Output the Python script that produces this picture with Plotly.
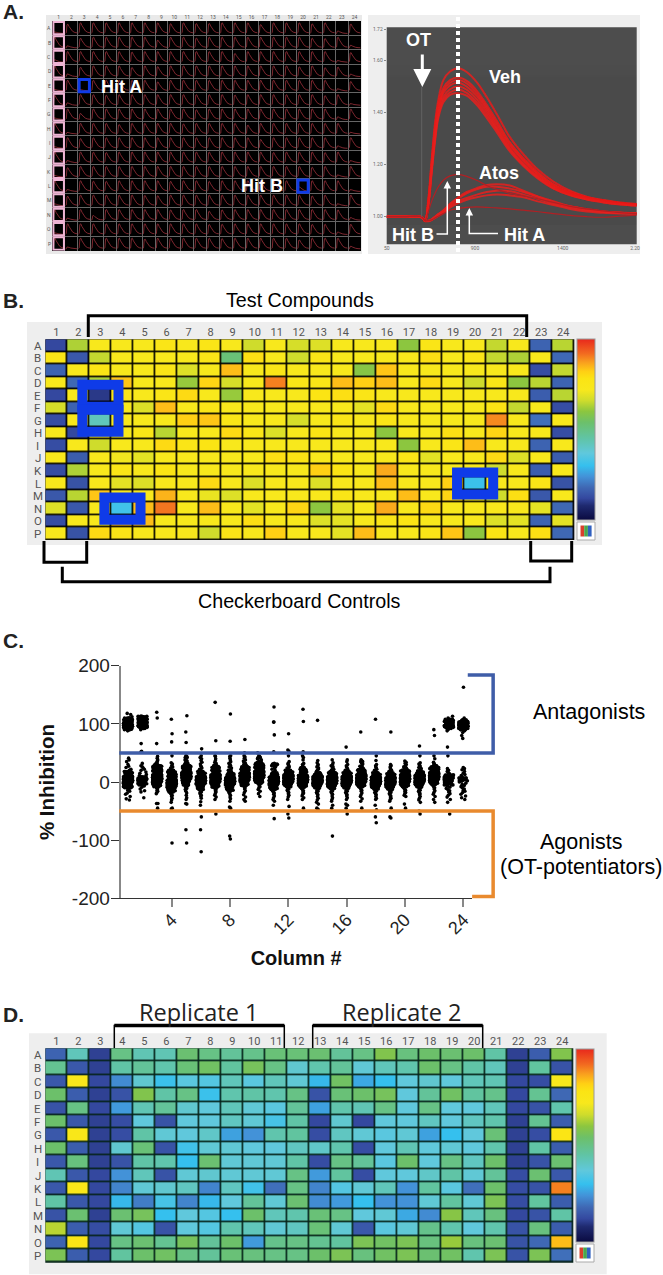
import plotly.graph_objects as go

W, H = 663, 1275

ROWS = list("ABCDEFGHIJKLMNOP")
COLUMNS = list(range(1, 25))

# panel A, kinetic traces (ratio vs read number)
READS = [50, 100, 155, 165, 175, 185, 195, 205, 220, 240, 265, 290, 320, 350, 380, 420, 460, 500, 550, 600, 650, 700, 750, 800]
VEH_TRACES = [
    [1.00, 1.00, 0.998, 0.987, 1.07, 1.22, 1.36, 1.45, 1.525, 1.558, 1.571, 1.556, 1.517, 1.46, 1.395, 1.305, 1.24, 1.185, 1.135, 1.10, 1.077, 1.064, 1.055, 1.049],
    [1.00, 1.00, 0.998, 0.985, 1.06, 1.21, 1.34, 1.43, 1.495, 1.525, 1.535, 1.522, 1.485, 1.43, 1.37, 1.285, 1.225, 1.175, 1.125, 1.095, 1.075, 1.062, 1.053, 1.048],
    [1.00, 1.00, 0.997, 0.984, 1.06, 1.20, 1.33, 1.42, 1.485, 1.515, 1.525, 1.512, 1.475, 1.42, 1.36, 1.28, 1.22, 1.17, 1.122, 1.092, 1.073, 1.061, 1.052, 1.047],
    [1.00, 1.00, 0.998, 0.986, 1.05, 1.19, 1.32, 1.41, 1.475, 1.505, 1.515, 1.50, 1.465, 1.41, 1.35, 1.272, 1.215, 1.165, 1.118, 1.09, 1.071, 1.06, 1.051, 1.046],
    [1.00, 1.00, 0.999, 0.985, 1.05, 1.18, 1.31, 1.40, 1.46, 1.49, 1.50, 1.488, 1.452, 1.40, 1.34, 1.262, 1.205, 1.158, 1.114, 1.086, 1.069, 1.058, 1.05, 1.045],
    [1.00, 1.00, 0.997, 0.984, 1.05, 1.18, 1.30, 1.39, 1.45, 1.478, 1.488, 1.476, 1.44, 1.39, 1.335, 1.258, 1.20, 1.155, 1.11, 1.084, 1.067, 1.056, 1.048, 1.043],
    [1.00, 1.00, 0.998, 0.985, 1.04, 1.17, 1.29, 1.38, 1.44, 1.468, 1.475, 1.465, 1.43, 1.38, 1.325, 1.25, 1.195, 1.15, 1.108, 1.082, 1.066, 1.055, 1.047, 1.042],
]
ATOS_TRACES = [
    [1.00, 1.00, 1.00, 0.985, 0.985, 0.99, 1.00, 1.01, 1.025, 1.05, 1.075, 1.095, 1.11, 1.122, 1.125, 1.12, 1.10, 1.08, 1.06, 1.04, 1.03, 1.02, 1.015, 1.012],
    [1.00, 1.00, 0.998, 0.983, 0.985, 0.99, 1.00, 1.01, 1.022, 1.045, 1.07, 1.09, 1.105, 1.115, 1.115, 1.108, 1.095, 1.078, 1.055, 1.04, 1.028, 1.02, 1.016, 1.014],
    [1.00, 1.00, 0.999, 0.984, 0.984, 0.988, 0.996, 1.005, 1.018, 1.04, 1.06, 1.072, 1.085, 1.095, 1.10, 1.098, 1.085, 1.07, 1.05, 1.035, 1.025, 1.018, 1.015, 1.012],
    [1.00, 1.00, 0.998, 0.983, 0.983, 0.987, 0.995, 1.003, 1.015, 1.035, 1.052, 1.065, 1.075, 1.082, 1.085, 1.082, 1.075, 1.06, 1.045, 1.03, 1.02, 1.015, 1.012, 1.01],
]
HIT_B_TRACE = [1.00, 1.00, 1.00, 0.985, 1.02, 1.06, 1.09, 1.115, 1.14, 1.157, 1.163, 1.155, 1.14, 1.12, 1.105, 1.09, 1.08, 1.07, 1.055, 1.04, 1.03, 1.022, 1.016, 1.012]
HIT_A_TRACE = [1.00, 1.00, 1.00, 0.985, 0.985, 0.988, 0.995, 1.002, 1.012, 1.025, 1.032, 1.036, 1.038, 1.036, 1.034, 1.03, 1.025, 1.02, 1.012, 1.005, 1.00, 0.998, 1.002, 1.006]
RATIO_TICKS = [0.89, 1.0, 1.2, 1.4, 1.6, 1.72]
READ_TICKS = [50, 315, 578, 795]
READ_LABELS = ["50", "900", "1400", "2.20"]

# shape of the small well trace in the plate view of panel A
WELL_TIME = [0, 0.06, 0.12, 0.2, 0.3, 0.45, 0.6, 0.8, 1]
WELL_SHAPE = [0.05, 0.1, 0.95, 1, 0.75, 0.45, 0.25, 0.12, 0.08]

PLATE_B = [
    [12, 63, 72, 72, 72, 76, 72, 76, 72, 66, 72, 67, 68, 72, 72, 72, 60, 76, 72, 72, 65, 72, 17, 64],
    [76, 15, 65, 72, 72, 72, 72, 76, 52, 79, 72, 66, 76, 72, 72, 72, 72, 79, 72, 76, 65, 63, 72, 18],
    [17, 72, 77, 72, 72, 76, 68, 72, 84, 72, 76, 72, 72, 72, 59, 83, 72, 72, 72, 72, 72, 72, 13, 65],
    [72, 18, 63, 83, 72, 72, 61, 81, 67, 72, 90, 76, 76, 84, 82, 84, 72, 80, 72, 66, 76, 60, 64, 17],
    [12, 72, 10, 76, 72, 76, 80, 72, 61, 72, 72, 72, 78, 79, 76, 72, 72, 72, 72, 72, 72, 72, 16, 64],
    [67, 17, 72, 72, 68, 84, 72, 76, 72, 72, 72, 72, 72, 72, 69, 80, 72, 72, 72, 72, 78, 65, 72, 13],
    [13, 72, 42, 72, 72, 72, 82, 83, 76, 72, 72, 67, 72, 76, 72, 76, 72, 72, 72, 72, 89, 72, 19, 72],
    [72, 12, 72, 72, 76, 64, 72, 72, 80, 76, 68, 72, 78, 72, 72, 60, 72, 72, 79, 72, 81, 72, 72, 13],
    [13, 72, 66, 72, 72, 80, 76, 78, 72, 72, 72, 72, 72, 72, 72, 72, 60, 72, 76, 84, 72, 72, 17, 72],
    [72, 16, 72, 71, 69, 72, 72, 72, 72, 72, 79, 78, 72, 72, 72, 72, 76, 69, 72, 72, 80, 68, 72, 16],
    [13, 63, 72, 76, 72, 78, 72, 72, 72, 72, 72, 72, 82, 78, 72, 86, 72, 72, 72, 72, 66, 72, 16, 72],
    [72, 14, 72, 69, 68, 72, 72, 80, 72, 68, 72, 72, 68, 72, 72, 84, 72, 72, 82, 31, 72, 72, 76, 14],
    [15, 64, 83, 72, 72, 85, 72, 70, 68, 72, 72, 72, 72, 76, 72, 72, 84, 72, 81, 72, 66, 79, 15, 72],
    [68, 15, 72, 32, 84, 91, 72, 84, 72, 69, 72, 81, 60, 69, 72, 86, 72, 80, 72, 72, 72, 72, 69, 18],
    [13, 72, 72, 84, 84, 72, 72, 72, 72, 79, 72, 72, 68, 69, 72, 76, 78, 72, 72, 72, 68, 69, 17, 69],
    [72, 14, 80, 76, 72, 72, 72, 66, 76, 72, 82, 72, 72, 69, 84, 72, 72, 76, 83, 60, 78, 72, 79, 18],
]
PLATE_D = [
    [17, 42, 11, 50, 43, 43, 53, 50, 47, 49, 52, 52, 53, 47, 50, 58, 51, 54, 53, 54, 45, 11, 16, 58],
    [48, 15, 11, 45, 47, 44, 52, 55, 46, 56, 50, 39, 44, 47, 38, 42, 44, 54, 50, 45, 42, 11, 46, 14],
    [15, 73, 12, 23, 39, 31, 36, 35, 42, 36, 42, 38, 29, 55, 27, 30, 37, 39, 37, 42, 43, 12, 13, 72],
    [54, 16, 11, 14, 58, 45, 50, 31, 44, 45, 44, 50, 14, 52, 54, 56, 37, 47, 55, 46, 49, 12, 48, 18],
    [14, 50, 12, 25, 43, 47, 39, 37, 42, 38, 36, 47, 26, 44, 43, 50, 37, 50, 37, 37, 42, 12, 14, 44],
    [54, 15, 11, 13, 37, 14, 37, 37, 41, 38, 33, 45, 12, 39, 12, 37, 37, 41, 37, 41, 44, 11, 48, 16],
    [15, 74, 11, 13, 45, 38, 37, 40, 26, 24, 44, 46, 13, 41, 38, 36, 38, 26, 30, 37, 52, 11, 13, 77],
    [54, 16, 11, 39, 52, 14, 32, 38, 38, 37, 37, 41, 40, 44, 13, 37, 43, 37, 38, 37, 44, 11, 45, 16],
    [15, 51, 11, 14, 45, 44, 30, 53, 38, 38, 38, 45, 13, 50, 47, 36, 54, 37, 50, 41, 54, 11, 14, 53],
    [43, 15, 12, 24, 42, 14, 38, 39, 38, 38, 38, 50, 25, 46, 13, 37, 37, 40, 45, 38, 47, 13, 53, 15],
    [15, 74, 12, 22, 38, 39, 41, 22, 41, 32, 19, 50, 22, 35, 38, 42, 24, 46, 36, 19, 54, 13, 14, 90],
    [45, 15, 12, 29, 21, 33, 22, 29, 37, 47, 38, 53, 23, 25, 30, 24, 24, 38, 46, 38, 57, 13, 46, 16],
    [14, 53, 11, 53, 56, 30, 37, 35, 30, 54, 42, 44, 52, 50, 37, 38, 27, 23, 59, 42, 51, 12, 14, 45],
    [64, 16, 13, 38, 35, 14, 37, 35, 44, 42, 38, 41, 52, 38, 15, 36, 38, 49, 44, 37, 44, 14, 51, 16],
    [17, 76, 12, 50, 53, 48, 56, 47, 54, 25, 49, 50, 48, 46, 57, 55, 57, 51, 61, 51, 53, 14, 18, 84],
    [57, 16, 12, 46, 54, 55, 50, 47, 52, 51, 50, 50, 54, 57, 51, 55, 57, 53, 55, 44, 57, 14, 57, 19],
]
HITS_B = [("E", 3), ("G", 3), ("N", 4), ("L", 20)]
HITS_A = [("E", 3), ("L", 20)]

# panel C, % inhibition read per column
INHIBITION = [
    [118, 116, 112, 110, 108, 107, 106, 105, 104, 103, 103, 102, 101, 100, 100, 99, 99, 98, 97, 97, 96, 95, 94, 93, 92, 91, 90, 88, 41, 38, 35, 30, 27, 25, 22, 20, 18, 16, 15, 14, 12, 11, 10, 9, 8, 7, 6, 5, 4, 3, 2, 1, 0, 0, -1, -2, -3, -4, -5, -6, -7, -8, -10, -12, -14, -16, -19, -21, -25, -29, -31],
    [113, 112, 111, 110, 109, 108, 108, 107, 106, 105, 105, 104, 103, 103, 102, 102, 101, 100, 100, 99, 98, 97, 96, 95, 94, 92, 90, 66, 53, 52, 32, 28, 26, 24, 22, 20, 17, 15, 13, 11, 9, 7, 6, 5, 4, 3, 2, 1, 0, -1, -2, -3, -5, -7, -9, -12, -15, -17, -27],
    [120, 110, 66, 44, 41, 38, 36, 34, 32, 30, 28, 27, 26, 25, 24, 23, 22, 21, 20, 19, 18, 17, 16, 15, 14, 13, 12, 11, 10, 9, 8, 7, 6, 5, 4, 3, 2, 1, 0, -1, -2, -3, -4, -5, -6, -8, -10, -12, -14, -16, -18, -20, -37, -37, -45],
    [108, 83, 69, 45, 33, 31, 28, 26, 24, 22, 20, 18, 17, 16, 14, 13, 12, 10, 9, 8, 7, 6, 5, 4, 3, 2, 1, 0, 0, -1, -2, -3, -4, -5, -6, -7, -8, -9, -10, -11, -12, -14, -15, -17, -19, -21, -23, -25, -28, -31, -35, -45, -46, -105],
    [114, 86, 68, 45, 44, 42, 40, 38, 36, 34, 32, 30, 28, 27, 26, 25, 24, 22, 21, 20, 19, 18, 17, 16, 15, 14, 13, 12, 11, 10, 9, 8, 7, 6, 5, 3, 2, 1, 0, -2, -3, -5, -7, -9, -11, -13, -16, -19, -23, -27, -30, -37, -38, -82, -105],
    [57, 45, 42, 40, 37, 34, 31, 28, 26, 24, 22, 20, 18, 16, 15, 14, 12, 11, 10, 9, 8, 7, 6, 5, 4, 3, 2, 1, 0, -1, -2, -3, -4, -5, -7, -8, -10, -11, -13, -15, -17, -19, -21, -23, -25, -28, -34, -40, -60, -82, -120],
    [137, 71, 45, 44, 40, 37, 34, 32, 30, 28, 26, 25, 24, 22, 20, 19, 18, 16, 15, 14, 13, 12, 11, 10, 9, 8, 7, 6, 5, 4, 3, 2, 1, 0, -1, -2, -3, -4, -6, -7, -9, -11, -13, -15, -17, -20, -23, -26, -30, -55],
    [117, 70, 45, 44, 41, 38, 35, 32, 30, 28, 26, 24, 22, 20, 18, 16, 14, 13, 12, 11, 10, 8, 7, 6, 5, 4, 3, 2, 1, 0, -1, -2, -3, -4, -5, -6, -8, -9, -11, -12, -14, -16, -18, -20, -23, -26, -29, -33, -43, -45, -93, -98],
    [73, 50, 45, 43, 41, 38, 36, 34, 32, 30, 28, 26, 25, 24, 22, 21, 20, 19, 18, 17, 16, 15, 14, 13, 12, 11, 10, 9, 8, 7, 6, 5, 4, 3, 2, 1, 0, -1, -3, -4, -6, -8, -10, -12, -15, -18, -22, -26, -30, -33],
    [50, 45, 44, 42, 40, 38, 36, 34, 32, 31, 30, 29, 28, 27, 26, 25, 24, 23, 22, 21, 20, 19, 18, 17, 16, 15, 14, 13, 12, 11, 10, 9, 8, 7, 6, 5, 4, 3, 2, 1, 0, -2, -4, -6, -8, -10, -13, -16, -20, -25],
    [129, 103, 103, 81, 52, 32, 31, 30, 28, 26, 24, 22, 20, 18, 16, 14, 13, 12, 10, 9, 8, 7, 6, 5, 4, 3, 2, 1, 0, -1, -2, -3, -4, -5, -6, -7, -9, -10, -11, -13, -15, -17, -19, -21, -24, -27, -30, -33, -40, -63],
    [83, 55, 53, 45, 35, 32, 30, 28, 26, 24, 22, 20, 18, 17, 16, 15, 14, 13, 12, 11, 10, 9, 8, 7, 6, 5, 4, 3, 2, 1, 0, -1, -2, -3, -4, -5, -6, -8, -10, -12, -14, -16, -18, -20, -23, -26, -30, -42, -55, -62],
    [125, 104, 52, 45, 42, 38, 32, 30, 28, 25, 24, 22, 20, 18, 17, 16, 14, 12, 11, 10, 9, 8, 7, 6, 5, 4, 3, 2, 1, 0, -1, -2, -3, -4, -5, -6, -7, -9, -11, -13, -15, -17, -19, -21, -24, -27, -30, -45],
    [106, 37, 33, 30, 28, 26, 24, 22, 20, 18, 16, 14, 13, 12, 11, 10, 9, 8, 7, 6, 5, 4, 3, 2, 1, 0, -1, -2, -3, -4, -5, -6, -7, -8, -10, -12, -14, -16, -18, -20, -22, -25, -28, -31, -35, -38, -45, -47],
    [38, 33, 30, 28, 26, 24, 22, 20, 18, 16, 15, 14, 13, 12, 11, 10, 9, 8, 7, 6, 5, 4, 3, 2, 1, 0, -1, -2, -3, -4, -5, -6, -7, -8, -9, -11, -13, -15, -17, -19, -21, -24, -27, -30, -33, -40, -45, -93],
    [60, 38, 35, 30, 28, 26, 24, 22, 20, 18, 16, 15, 14, 13, 12, 11, 10, 9, 8, 7, 6, 5, 4, 3, 2, 1, 0, -1, -2, -3, -4, -5, -6, -7, -8, -10, -12, -14, -16, -18, -20, -22, -24, -27, -30, -38, -40, -45, -55],
    [86, 38, 37, 35, 33, 31, 29, 27, 25, 23, 21, 20, 18, 17, 16, 15, 14, 13, 12, 11, 10, 9, 8, 7, 6, 5, 4, 3, 2, 1, 0, -1, -2, -3, -4, -5, -6, -8, -10, -12, -14, -16, -19, -22, -25, -29, -33, -45],
    [108, 45, 37, 30, 28, 26, 24, 22, 20, 18, 16, 14, 13, 12, 11, 10, 9, 8, 7, 6, 5, 4, 3, 2, 1, 0, -1, -2, -3, -4, -5, -6, -7, -8, -9, -10, -12, -14, -16, -18, -20, -22, -25, -28, -30, -40, -48, -60, -70],
    [86, 30, 28, 26, 24, 22, 20, 18, 16, 14, 13, 12, 11, 10, 9, 8, 7, 6, 5, 4, 3, 2, 1, 0, -1, -2, -3, -4, -5, -6, -7, -8, -9, -10, -12, -14, -16, -18, -20, -22, -24, -26, -28, -30, -33, -45, -60, -62],
    [36, 34, 32, 30, 28, 26, 24, 22, 20, 19, 18, 17, 16, 15, 14, 13, 12, 11, 10, 9, 8, 7, 6, 5, 4, 3, 2, 1, 0, -1, -2, -3, -4, -5, -6, -8, -10, -12, -14, -16, -18, -20, -23, -25, -38, -45],
    [62, 45, 33, 31, 29, 27, 25, 23, 21, 19, 17, 16, 15, 14, 13, 12, 11, 10, 9, 8, 7, 6, 5, 4, 3, 2, 1, 0, -1, -2, -3, -4, -5, -6, -8, -10, -12, -14, -16, -18, -20, -22, -25, -28, -31, -35, -50, -55],
    [90, 80, 45, 40, 34, 32, 30, 28, 26, 25, 24, 23, 22, 21, 20, 19, 18, 17, 16, 15, 14, 13, 12, 11, 10, 9, 8, 7, 6, 5, 4, 3, 2, 1, 0, -1, -2, -4, -6, -8, -10, -12, -15, -18, -21, -25, -30, -35],
    [113, 110, 108, 106, 105, 104, 103, 102, 101, 100, 99, 98, 97, 96, 95, 94, 92, 90, 88, 60, 45, 23, 20, 18, 16, 14, 12, 10, 9, 8, 7, 5, 4, 2, 1, 0, -2, -3, -5, -7, -9, -11, -13, -15, -17, -20, -23, -26, -30, -35, -55],
    [163, 110, 107, 105, 104, 103, 102, 101, 100, 99, 98, 97, 96, 95, 94, 93, 92, 90, 88, 85, 80, 75, 25, 23, 21, 18, 15, 13, 11, 9, 7, 5, 4, 2, 0, -2, -4, -6, -8, -10, -12, -14, -16, -18, -21, -24, -27, -30],
]
TICKS_C = [4, 8, 12, 16, 20, 24]
TICKS_INHIBITION = [-200, -100, 0, 100, 200]
LABELS_INHIBITION = ["-200", "-100", "0", "100", "200"]
ANTAGONIST_CUT = 50
AGONIST_CUT = -50
PLATES_READ = 5  # the plates of a screen overlap, so the dense bands are drawn once per plate

HEAT_SCALE = [
    [0.00, "#0a0a40"], [0.08, "#1f2a70"], [0.12, "#34489f"], [0.18, "#3f68b4"], [0.24, "#4392d8"],
    [0.30, "#35c0ee"], [0.37, "#60c8dc"], [0.45, "#60c4a6"], [0.54, "#6cc06a"], [0.60, "#8cc63f"],
    [0.66, "#cfdc2c"], [0.72, "#f8e81c"], [0.78, "#fbe414"], [0.82, "#ffd014"], [0.87, "#f9a01e"],
    [0.92, "#f26a20"], [1.00, "#e8281c"],
]

SANS = "Liberation Sans"
BLUE_FRAME = "#0f3be8"
C_LEFT, C_RIGHT, C_TOP, C_BOTTOM = 120.7, 471.7, 665.7, 898.3
C_RANGE_X = [0.5, 24.57]


def px(x, y):
    return x / W, 1 - y / H


def dom_x(a, b):
    return [a / W, b / W]


def dom_y(top, bottom):
    return [1 - bottom / H, 1 - top / H]


def c_px(col, value):
    # panel C data position to page pixels, for the brackets that run past the axes
    x = C_LEFT + (col - C_RANGE_X[0]) / (C_RANGE_X[1] - C_RANGE_X[0]) * (C_RIGHT - C_LEFT)
    y = C_TOP + (200 - value) / 400 * (C_BOTTOM - C_TOP)
    return x, y


def box(x0, y0, x1, y1, fill, line=None, width=0, layer="below"):
    a, b = px(x0, y0)
    c, d = px(x1, y1)
    return dict(type="rect", xref="paper", yref="paper", x0=a, y0=d, x1=c, y1=b, fillcolor=fill,
                line=dict(color=line or fill, width=width), layer=layer)


def path(points, color="black", width=3, dash="solid"):
    s = ""
    for i, (x, y) in enumerate(points):
        a, b = px(x, y)
        s += ("M" if i == 0 else "L") + f" {a:.5f} {b:.5f} "
    return dict(type="path", xref="paper", yref="paper", path=s, line=dict(color=color, width=width, dash=dash), layer="above")


def text(x, y, s, size=19, color="black", family=SANS, bold=False):
    a, b = px(x, y)
    return dict(x=a, y=b, xref="paper", yref="paper", text=f"<b>{s}</b>" if bold else s, showarrow=False,
                font=dict(size=size, color=color, family=family), xanchor="center", yanchor="middle")


def row_letters(x, top, bottom, size):
    step = (bottom - top) / 16
    return [text(x, top + (i + 0.5) * step, r, size, "#555", "Roboto") for i, r in enumerate(ROWS)]


def plate_axes(left, right, top, bottom, tick_size, anchor_y):
    xa = dict(domain=dom_x(left, right), range=[0.5, 24.5], tickvals=COLUMNS, side="top", ticks="", showgrid=False,
              zeroline=False, showline=False, tickfont=dict(size=tick_size, color="#555", family="Roboto"),
              anchor=anchor_y, tickangle=0)
    ya = dict(domain=dom_y(top, bottom), range=[16.5, 0.5], tickvals=list(range(1, 17)), ticktext=ROWS, ticks="",
              showgrid=False, zeroline=False, showline=False, showticklabels=False)
    return xa, ya


def colorbar(x, y_bottom, length):
    return dict(x=x / W, xanchor="left", y=1 - y_bottom / H, yanchor="bottom", lenmode="pixels", len=length,
                thickness=18, xpad=0, ypad=0, outlinewidth=1, outlinecolor="#999", ticks="", showticklabels=False)


def icon(x0, y0):
    parts = [box(x0, y0, x0 + 18, y0 + 18, "white", "#aaa", 1)]
    for i, c in enumerate(["#d8402c", "#4aa84c", "#3060c0"]):
        parts.append(box(x0 + 3.5 + 3.7 * i, y0 + 3.5, x0 + 7.2 + 3.7 * i, y0 + 14.5, c))
    return parts


fig = go.Figure()

# panel A plate view
well_x, well_y = [], []
for r in range(16):
    for c in range(24):
        peak = min(PLATE_B[r][c] / 72, 1)
        for t, s in zip(WELL_TIME, WELL_SHAPE):
            well_x.append(c + 1 - 0.45 + 0.9 * t)
            well_y.append(r + 1 + 0.38 - 0.75 * s * peak)
        well_x.append(None)
        well_y.append(None)
fig.add_trace(go.Scatter(x=well_x, y=well_y, mode="lines", line=dict(color="#8a2a33", width=0.9),
                         xaxis="x", yaxis="y", hoverinfo="skip"))

# panel A kinetic traces
for trace in VEH_TRACES + ATOS_TRACES:
    fig.add_trace(go.Scatter(x=READS, y=trace, mode="lines", line=dict(color="#e8201e", width=2, shape="spline"),
                             opacity=0.85, xaxis="x2", yaxis="y2"))
for trace in [HIT_B_TRACE, HIT_A_TRACE]:
    fig.add_trace(go.Scatter(x=READS, y=trace, mode="lines", line=dict(color="#b02024", width=1.2, shape="spline"),
                             xaxis="x2", yaxis="y2"))
fig.add_trace(go.Scatter(x=[155, 155], y=[1.0, 1.5], mode="lines", line=dict(color="#626262", width=1),
                         xaxis="x2", yaxis="y2"))

# panels B and D
fig.add_trace(go.Heatmap(z=PLATE_B, x=COLUMNS, y=list(range(1, 17)), zmin=0, zmax=100, colorscale=HEAT_SCALE,
                         xgap=1.6, ygap=1.6, colorbar=colorbar(577, 520, 181), xaxis="x3", yaxis="y3"))
fig.add_trace(go.Heatmap(z=PLATE_D, x=COLUMNS, y=list(range(1, 17)), zmin=0, zmax=100, colorscale=HEAT_SCALE,
                         xgap=1.6, ygap=1.6, colorbar=colorbar(576, 1241.7, 193), xaxis="x5", yaxis="y5"))

# panel C
for col, values in zip(COLUMNS, INHIBITION):
    dense = [v for v in values if sum(abs(v - u) <= 3 for u in values) >= 4]
    points = values + dense * (PLATES_READ - 1)
    fig.add_trace(go.Box(x=[col] * len(points), y=points, boxpoints="all", jitter=0.8, pointpos=0, width=0.8,
                         fillcolor="rgba(0,0,0,0)", line=dict(width=0, color="rgba(0,0,0,0)"),
                         marker=dict(color="black", size=3.6), xaxis="x4", yaxis="y4", hoverinfo="y"))

shapes = [
    box(46, 15, 362, 254, "#e9e9e9"),
    box(52, 21, 361, 251, "black"),
    box(368, 15, 640, 254, "#eeeeee"),
    box(386.7, 27.3, 636.7, 244.3, "#4d4d4d"),
    box(27, 322, 602, 545, "#eeeeee"),
    box(45.3, 339.3, 574.3, 540, "black"),
    box(29, 1033.3, 606.7, 1274.3, "#eeeeee"),
    box(45.3, 1048.3, 573.3, 1262.7, "#06231a"),
]
shapes += icon(577, 522) + icon(576, 1244)

# pink control column of the plate view
for r in range(1, 17):
    shapes.append(dict(type="rect", xref="x", yref="y", x0=0.6, x1=1.42, y0=r - 0.43, y1=r + 0.43,
                       line=dict(color="#eeb4d4", width=2), layer="above"))
for row, col in HITS_A:
    r = ROWS.index(row) + 1
    shapes.append(dict(type="rect", xref="x", yref="y", x0=col - 0.4, x1=col + 0.4, y0=r - 0.42, y1=r + 0.42,
                       line=dict(color=BLUE_FRAME, width=3), layer="above"))
for row, col in HITS_B:
    r = ROWS.index(row) + 1
    dy = 0.88
    shapes.append(dict(type="rect", xref="x3", yref="y3", x0=col - 0.82, x1=col + 0.82, y0=r - dy, y1=r + dy,
                       line=dict(color=BLUE_FRAME, width=10), layer="above"))

# brackets
shapes += [
    path([(458, 17), (458, 252)], color="white", width=4, dash="4px,3px"),
    path([(88.3, 337), (88.3, 315.7), (526.7, 315.7), (526.7, 337)]),
    path([(44, 541), (44, 562.3), (86.7, 562.3), (86.7, 541)]),
    path([(530.7, 541), (530.7, 561), (571.7, 561), (571.7, 541)]),
    path([(62.3, 566.7), (62.3, 581.7), (550, 581.7), (550, 566.7)]),
    path([(114.3, 1048), (114.3, 1025.5), (284.3, 1025.5), (284.3, 1048)], width=1.5),
    path([(114.3, 1025.5), (284.3, 1025.5)], width=3.5),
    path([(312.7, 1048), (312.7, 1025.5), (482.7, 1025.5), (482.7, 1048)], width=1.5),
    path([(312.7, 1025.5), (482.7, 1025.5)], width=3.5),
    path([(447.3, 185), (447.3, 234), (436.5, 234)], color="white", width=1.5),
    path([(469.3, 212), (469.3, 233.5), (498, 233.5)], color="white", width=1.5),
    path([c_px(0.4, ANTAGONIST_CUT), c_px(26.04, ANTAGONIST_CUT), c_px(26.04, 184), c_px(24.3, 184)], color="#3f5da8", width=3.5),
    path([c_px(0.4, AGONIST_CUT), c_px(26.04, AGONIST_CUT), c_px(26.04, -197), c_px(24.6, -197)], color="#e98a2e", width=3.5),
]

annotations = [
    text(13, 11, "A.", 21, "#222", bold=True),
    text(13, 300, "B.", 21, "#222", bold=True),
    text(13, 640, "C.", 21, "#222", bold=True),
    text(13, 1014, "D.", 21, "#222", bold=True),
    text(121, 87, "Hit A", 18, "white", bold=True),
    text(261.5, 186, "Hit B", 18, "white", bold=True),
    text(418, 40, "OT", 18, "white", bold=True),
    text(505, 77, "Veh", 18, "white", bold=True),
    text(499, 173, "Atos", 18, "white", bold=True),
    text(413, 235, "Hit B", 18, "white", bold=True),
    text(524, 235, "Hit A", 18, "white", bold=True),
    text(300, 300, "Test Compounds", 19.7),
    text(299, 601, "Checkerboard Controls", 19.7),
    text(589, 711.7, "Antagonists", 21.5),
    text(581, 841.7, "Agonists", 21.5),
    text(581, 866.7, "(OT-potentiators)", 21.5),
    text(198, 1011.7, "Replicate 1", 23.5, "#222", "Open Sans"),
    text(401, 1011.7, "Replicate 2", 23.5, "#222", "Open Sans"),
]
annotations += row_letters(49, 21, 250.7, 5)
annotations += row_letters(37.7, 339.3, 540, 11.5)
annotations += row_letters(37.7, 1048.3, 1262.7, 11.5)
# white arrows in the kinetic panel
for (x_tip, y_tip, x_tail, y_tail, w) in [(422.3, 87, 422.3, 53, 3), (447.3, 181, 447.3, 190, 1.5), (469.3, 208, 469.3, 218, 1.5)]:
    a, b = px(x_tip, y_tip)
    annotations.append(dict(x=a, y=b, ax=x_tail - x_tip, ay=y_tail - y_tip, xref="paper", yref="paper", text="",
                            showarrow=True, arrowhead=2, arrowsize=1.2 if w > 2 else 1, arrowwidth=w, arrowcolor="white"))

xa1, ya1 = plate_axes(52.1, 361, 21, 250.7, 5, "y")
xa1["minor"] = dict(tickvals=[c + 0.5 for c in COLUMNS[:-1]], showgrid=True, gridcolor="#666666", gridwidth=1, ticks="")
ya1["minor"] = dict(tickvals=[r + 0.5 for r in range(1, 16)], showgrid=True, gridcolor="#666666", gridwidth=1, ticks="")
xa3, ya3 = plate_axes(45.3, 574.3, 339.3, 540, 11, "y3")
xa5, ya5 = plate_axes(45.3, 573.3, 1048.3, 1262.7, 11, "y5")
small = dict(size=5, color="#666", family="Roboto")

fig.update_layout(
    width=W, height=H, margin=dict(l=0, r=0, t=0, b=0, pad=0, autoexpand=False), paper_bgcolor="white",
    plot_bgcolor="rgba(0,0,0,0)", showlegend=False, boxmode="overlay", shapes=shapes, annotations=annotations,
    xaxis=xa1, yaxis=ya1,
    xaxis2=dict(domain=dom_x(386.7, 636.7), range=[50, 800], tickvals=READ_TICKS, ticktext=READ_LABELS, showgrid=False,
                zeroline=False, tickfont=small, ticks="", anchor="y2"),
    yaxis2=dict(domain=dom_y(27.3, 244.3), range=[0.894, 1.728], tickvals=RATIO_TICKS, tickformat=".2f", showgrid=False,
                zeroline=False, tickfont=small, ticks="outside", ticklen=2, tickcolor="#888", anchor="x2"),
    xaxis3=xa3, yaxis3=ya3,
    xaxis4=dict(domain=dom_x(C_LEFT, C_RIGHT), range=C_RANGE_X, tickvals=TICKS_C, tickangle=-45, showgrid=False,
                zeroline=False, showline=True, linecolor="#333", linewidth=1, ticks="outside", ticklen=8, tickwidth=2,
                tickcolor="#888", tickfont=dict(size=18, color="#222", family=SANS), anchor="y4", ticklabelstandoff=-5,
                title=dict(text="<b>Column #</b>", font=dict(size=20, color="#111", family=SANS), standoff=13)),
    yaxis4=dict(domain=dom_y(C_TOP, C_BOTTOM), range=[-200, 200], tickvals=TICKS_INHIBITION, ticktext=LABELS_INHIBITION,
                showgrid=False, zeroline=False, showline=True, linecolor="#888", linewidth=2, ticks="outside", ticklen=8,
                tickwidth=1, tickcolor="#333", tickfont=dict(size=19, color="#222", family=SANS), anchor="x4",
                ticklabelstandoff=-3,
                title=dict(text="<b>% Inhibition</b>", font=dict(size=20.5, color="#111", family=SANS), standoff=12)),
    xaxis5=xa5, yaxis5=ya5,
)

fig.write_html("out.html", config=dict(displayModeBar=False),
               post_script="document.body.style.margin='0';document.body.style.overflow='hidden';")
